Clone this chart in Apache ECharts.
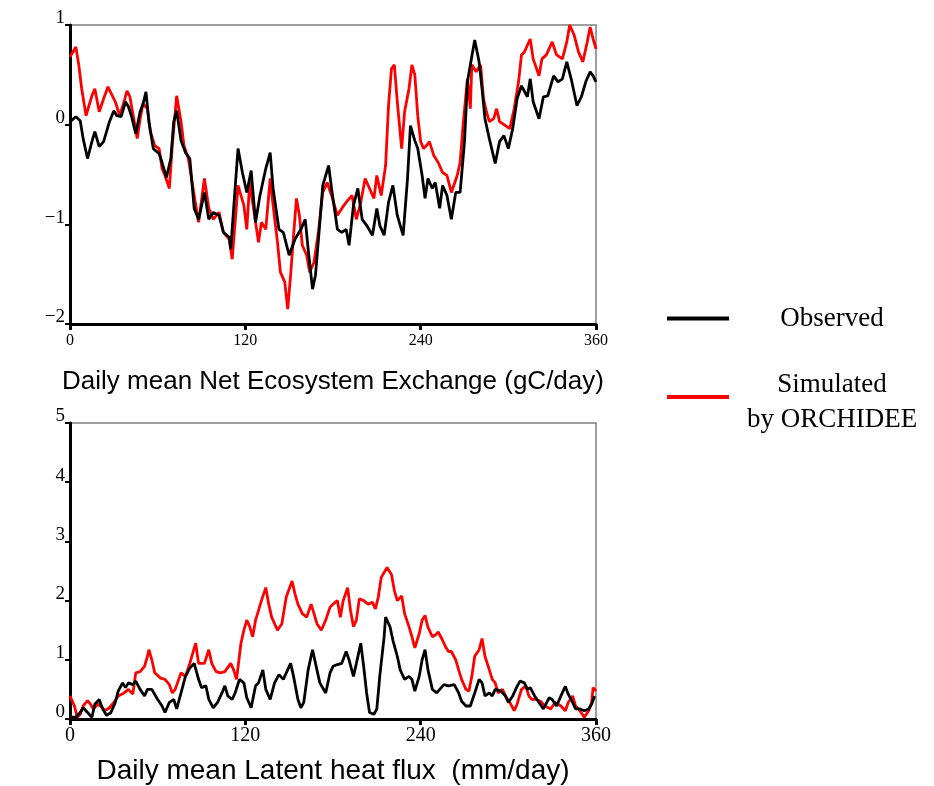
<!DOCTYPE html>
<html>
<head>
<meta charset="utf-8">
<script src="https://cdn.jsdelivr.net/npm/echarts@6/dist/echarts.min.js"></script>
<style>html,body{margin:0;padding:0;background:#fff;}#chart{width:934px;height:786px;}</style>
</head>
<body>
<div id="chart"></div>
<script>
// Day ticks
const dayTicks = [0, 120, 240, 360];
const neeTicks = [-2, -1, 0, 1];
const leTicks = [0, 1, 2, 3, 4, 5];

// Daily mean Net Ecosystem Exchange (gC/day): [day, value]
const neeObserved = [[0,0.03],[4,0.08],[7,0.04],[9,-0.14],[12,-0.34],[15,-0.17],[17,-0.07],[20,-0.22],[23,-0.17],[27,0.03],[30,0.14],[32,0.09],[35,0.08],[38,0.23],[40,0.18],[42,0.09],[45,-0.09],[48,0.13],[50,0.21],[52,0.33],[54,0.03],[57,-0.24],[61,-0.29],[63,-0.38],[66,-0.53],[69,-0.34],[71,0.03],[73,0.14],[76,-0.16],[79,-0.28],[82,-0.34],[85,-0.84],[88,-0.95],[92,-0.68],[95,-0.95],[98,-0.88],[102,-0.91],[105,-1.08],[109,-1.13],[110,-1.25],[113,-0.64],[115,-0.24],[118,-0.48],[121,-0.68],[124,-0.46],[127,-0.98],[130,-0.71],[134,-0.44],[137,-0.28],[139,-0.64],[143,-1.05],[146,-1.08],[150,-1.31],[154,-1.15],[158,-1.05],[161,-0.95],[163,-1.25],[166,-1.65],[168,-1.51],[171,-0.98],[173,-0.61],[177,-0.41],[179,-0.64],[183,-1.05],[186,-1.08],[189,-1.05],[191,-1.21],[194,-0.81],[197,-0.64],[200,-0.95],[203,-1.01],[207,-1.11],[210,-0.84],[212,-1.01],[215,-1.11],[218,-0.78],[221,-0.61],[224,-0.91],[228,-1.11],[231,-0.54],[233,-0.01],[236,-0.16],[238,-0.24],[241,-0.51],[243,-0.74],[245,-0.54],[248,-0.64],[250,-0.58],[253,-0.84],[255,-0.61],[258,-0.71],[261,-0.95],[264,-0.68],[267,-0.68],[270,-0.17],[272,0.43],[274,0.60],[277,0.85],[280,0.63],[282,0.36],[284,0.06],[287,-0.14],[291,-0.39],[294,-0.17],[297,-0.11],[300,-0.24],[303,-0.04],[306,0.26],[309,0.39],[313,0.28],[315,0.46],[317,0.23],[321,0.06],[324,0.28],[327,0.29],[331,0.49],[334,0.43],[337,0.46],[340,0.63],[343,0.46],[347,0.19],[350,0.28],[353,0.43],[356,0.53],[358,0.49],[360,0.43]];

const neeSimulated = [[0,0.68],[4,0.78],[6,0.60],[8,0.36],[11,0.09],[13,0.19],[15,0.29],[17,0.36],[20,0.13],[23,0.26],[26,0.38],[29,0.29],[31,0.23],[34,0.09],[37,0.23],[39,0.34],[41,0.28],[44,0.03],[46,-0.14],[48,0.06],[50,0.21],[53,0.16],[55,-0.07],[58,-0.21],[61,-0.24],[63,-0.44],[65,-0.51],[68,-0.64],[70,-0.21],[73,0.29],[76,0.03],[78,-0.21],[81,-0.34],[85,-0.71],[88,-0.98],[92,-0.54],[95,-0.84],[98,-0.95],[102,-0.88],[105,-1.08],[109,-1.15],[111,-1.35],[113,-0.98],[115,-0.61],[119,-0.81],[121,-1.05],[123,-0.58],[127,-0.98],[129,-1.18],[131,-0.98],[134,-1.05],[137,-0.54],[139,-0.81],[142,-1.18],[144,-1.48],[147,-1.58],[149,-1.85],[151,-1.51],[153,-1.11],[155,-0.74],[157,-0.91],[159,-1.21],[162,-1.31],[164,-1.48],[167,-1.38],[170,-1.08],[173,-0.68],[176,-0.58],[179,-0.71],[183,-0.91],[186,-0.84],[189,-0.78],[193,-0.71],[196,-0.95],[199,-0.78],[202,-0.54],[205,-0.64],[208,-0.74],[210,-0.51],[213,-0.71],[216,-0.41],[218,0.19],[220,0.56],[222,0.60],[224,0.23],[227,-0.24],[229,0.13],[232,0.36],[234,0.60],[236,0.50],[238,0.09],[240,-0.17],[242,-0.24],[244,-0.21],[246,-0.17],[249,-0.31],[252,-0.38],[255,-0.48],[258,-0.51],[261,-0.68],[265,-0.51],[267,-0.38],[269,-0.01],[272,0.46],[274,0.16],[275,0.60],[278,0.53],[281,0.60],[283,0.26],[285,0.13],[287,0.03],[290,0.06],[292,0.16],[294,0.03],[298,-0.01],[301,-0.04],[304,0.16],[307,0.43],[309,0.70],[311,0.73],[315,0.86],[317,0.66],[321,0.49],[323,0.66],[326,0.70],[330,0.83],[333,0.70],[337,0.66],[340,0.83],[342,1.0],[345,0.90],[348,0.73],[351,0.63],[354,0.83],[356,0.98],[358,0.86],[360,0.76]];

// Daily mean Latent heat flux (mm/day): [day, value]
const leObserved = [[0,0.03],[4,0.03],[7,0.11],[9,0.19],[12,0.11],[15,0.03],[17,0.25],[20,0.33],[22,0.19],[25,0.06],[28,0.11],[31,0.28],[33,0.47],[36,0.61],[38,0.53],[40,0.61],[43,0.58],[45,0.64],[48,0.5],[51,0.39],[53,0.5],[56,0.5],[60,0.33],[63,0.22],[65,0.11],[68,0.28],[71,0.33],[73,0.17],[76,0.44],[79,0.72],[82,0.86],[85,0.94],[88,0.67],[90,0.53],[93,0.56],[95,0.33],[98,0.19],[101,0.28],[104,0.44],[106,0.56],[108,0.39],[111,0.33],[113,0.44],[116,0.67],[119,0.61],[121,0.36],[124,0.19],[127,0.56],[129,0.61],[132,0.83],[134,0.5],[137,0.33],[140,0.61],[143,0.75],[146,0.67],[151,0.94],[153,0.72],[156,0.33],[158,0.19],[160,0.28],[163,0.83],[166,1.17],[169,0.83],[171,0.61],[175,0.44],[178,0.78],[180,0.89],[183,0.92],[186,0.94],[189,1.14],[191,1.0],[194,0.72],[196,0.94],[199,1.28],[201,0.89],[203,0.44],[205,0.11],[208,0.08],[210,0.17],[212,0.72],[215,1.39],[216,1.72],[219,1.56],[221,1.33],[224,1.06],[226,0.83],[229,0.67],[232,0.72],[234,0.67],[236,0.47],[239,0.72],[241,1.0],[243,1.17],[245,0.83],[248,0.5],[251,0.44],[253,0.5],[256,0.58],[259,0.56],[263,0.58],[266,0.44],[268,0.3],[271,0.22],[274,0.22],[277,0.44],[280,0.67],[282,0.61],[284,0.39],[287,0.44],[289,0.39],[291,0.5],[295,0.47],[298,0.39],[300,0.28],[303,0.39],[306,0.55],[308,0.64],[311,0.61],[313,0.5],[315,0.53],[318,0.39],[321,0.28],[324,0.17],[328,0.36],[330,0.33],[333,0.22],[336,0.39],[339,0.55],[341,0.42],[344,0.28],[346,0.17],[349,0.17],[352,0.14],[355,0.17],[357,0.25],[359,0.39]];

const leSimulated = [[0,0.39],[3,0.22],[5,0.03],[7,0.08],[9,0.22],[12,0.31],[14,0.25],[16,0.17],[19,0.25],[21,0.22],[24,0.14],[27,0.19],[30,0.28],[33,0.39],[37,0.44],[40,0.5],[43,0.42],[45,0.78],[48,0.80],[51,0.89],[53,1.06],[54,1.17],[56,1.0],[58,0.78],[62,0.69],[65,0.67],[68,0.58],[70,0.44],[72,0.5],[76,0.78],[79,0.72],[82,0.94],[86,1.28],[88,0.94],[92,0.94],[95,1.17],[97,0.94],[100,0.80],[103,0.78],[106,0.80],[110,0.94],[112,0.83],[114,0.67],[117,1.28],[119,1.5],[121,1.67],[123,1.56],[125,1.39],[127,1.67],[129,1.83],[131,2.0],[134,2.22],[136,1.94],[138,1.72],[142,1.50],[145,1.61],[148,2.06],[152,2.33],[154,2.11],[156,1.94],[159,1.78],[162,1.72],[165,1.94],[167,1.78],[169,1.61],[172,1.50],[175,1.67],[178,1.89],[180,1.94],[183,2.0],[185,1.72],[187,2.0],[190,2.22],[192,1.83],[194,1.56],[196,1.67],[198,2.03],[201,2.0],[204,1.94],[207,1.97],[209,1.86],[211,2.06],[213,2.39],[217,2.56],[220,2.44],[222,2.17],[224,2.0],[227,2.08],[229,1.78],[232,1.56],[234,1.39],[236,1.2],[239,1.44],[241,1.67],[243,1.75],[245,1.55],[248,1.39],[250,1.42],[252,1.47],[255,1.33],[257,1.22],[259,1.14],[261,1.14],[264,1.0],[266,0.83],[268,0.67],[271,0.5],[273,0.47],[275,0.72],[277,1.06],[280,1.17],[282,1.36],[284,1.06],[287,0.83],[289,0.67],[291,0.61],[293,0.44],[296,0.5],[298,0.39],[301,0.28],[304,0.14],[306,0.25],[309,0.5],[312,0.56],[314,0.39],[316,0.33],[319,0.33],[322,0.3],[325,0.22],[329,0.17],[332,0.28],[336,0.22],[339,0.14],[341,0.28],[344,0.39],[346,0.22],[349,0.14],[352,0.03],[355,0.14],[357,0.28],[358,0.53],[360,0.47]];

const titles = ['Daily mean Net Ecosystem Exchange (gC/day)', 'Daily mean Latent heat flux  (mm/day)'];
const seriesNames = ['Observed', 'Simulated'];

const SERIF = 'Liberation Serif, Times New Roman, serif';
const SANS = 'Liberation Sans, Arial, sans-serif';

function xAxisCfg(gridIndex, name, labelSize, labelMargin, nameGap, nameSize) {
  return {
    type: 'value', gridIndex: gridIndex,
    min: dayTicks[0], max: dayTicks[dayTicks.length - 1], interval: dayTicks[1] - dayTicks[0],
    axisLine: { show: true, onZero: false, lineStyle: { color: '#000', width: 3 } },
    axisTick: { show: true, length: 6, lineStyle: { color: '#000', width: 3 } },
    splitLine: { show: false },
    axisLabel: { fontFamily: SERIF, fontSize: labelSize, color: '#000', margin: labelMargin },
    name: name, nameLocation: 'middle', nameGap: nameGap,
    nameTextStyle: { fontFamily: SANS, fontSize: nameSize, color: '#000' }
  };
}
function yAxisCfg(gridIndex, ticks) {
  return {
    type: 'value', gridIndex: gridIndex,
    min: ticks[0], max: ticks[ticks.length - 1], interval: ticks[1] - ticks[0],
    axisLine: { show: true, onZero: false, lineStyle: { color: '#000', width: 3 } },
    axisTick: { show: true, length: 5, lineStyle: { color: '#000', width: 2 } },
    splitLine: { show: false },
    axisLabel: {
      fontFamily: SERIF, fontSize: 19, color: '#000', margin: 5,
      verticalAlign: 'bottom', lineHeight: 13,
      formatter: function (v) { return String(v).replace('-', '\u2212'); }
    }
  };
}
function lineSeries(name, data, idx, color) {
  return {
    type: 'line', name: name, xAxisIndex: idx, yAxisIndex: idx, data: data,
    showSymbol: false, symbol: 'none',
    lineStyle: { color: color, width: 2.8 }, itemStyle: { color: color },
    silent: true
  };
}

const chart = echarts.init(document.getElementById('chart'), null, { renderer: 'canvas' });
chart.setOption({
  animation: false,
  backgroundColor: '#fff',
  grid: [
    { left: 70, top: 25, width: 526, height: 299, show: true, borderColor: '#7f7f7f', borderWidth: 1.5, backgroundColor: 'transparent' },
    { left: 70, top: 423, width: 526, height: 300, show: true, borderColor: '#7f7f7f', borderWidth: 1.5, backgroundColor: 'transparent' }
  ],
  xAxis: [xAxisCfg(0, titles[0], 16, 9, 45, 26), xAxisCfg(1, titles[1], 20, 7, 38, 28)],
  yAxis: [yAxisCfg(0, neeTicks), yAxisCfg(1, leTicks)],
  legend: [
    {
      data: [seriesNames[0]], left: 662, top: 300, orient: 'vertical',
      icon: 'rect', itemWidth: 62, itemHeight: 4, selectedMode: false,
      formatter: function (n) { return '{c|' + n + '}'; },
      textStyle: { rich: { c: { width: 196, align: 'center', fontFamily: SERIF, fontSize: 27, color: '#000', lineHeight: 30 } } }
    },
    {
      data: [seriesNames[1]], left: 662, top: 366, orient: 'vertical',
      icon: 'rect', itemWidth: 62, itemHeight: 4, selectedMode: false,
      formatter: function () { return '{a|Simulated}\n{b|by ORCHIDEE}'; },
      textStyle: { rich: {
        a: { width: 196, align: 'center', fontFamily: SERIF, fontSize: 27, color: '#000', lineHeight: 45 },
        b: { width: 196, align: 'center', fontFamily: SERIF, fontSize: 27, color: '#000', lineHeight: 25 }
      } }
    }
  ],
  series: [
    lineSeries(seriesNames[1], neeSimulated, 0, '#ff0000'),
    lineSeries(seriesNames[0], neeObserved, 0, '#000000'),
    lineSeries(seriesNames[1], leSimulated, 1, '#ff0000'),
    lineSeries(seriesNames[0], leObserved, 1, '#000000')
  ]
});
</script>
</body>
</html>
